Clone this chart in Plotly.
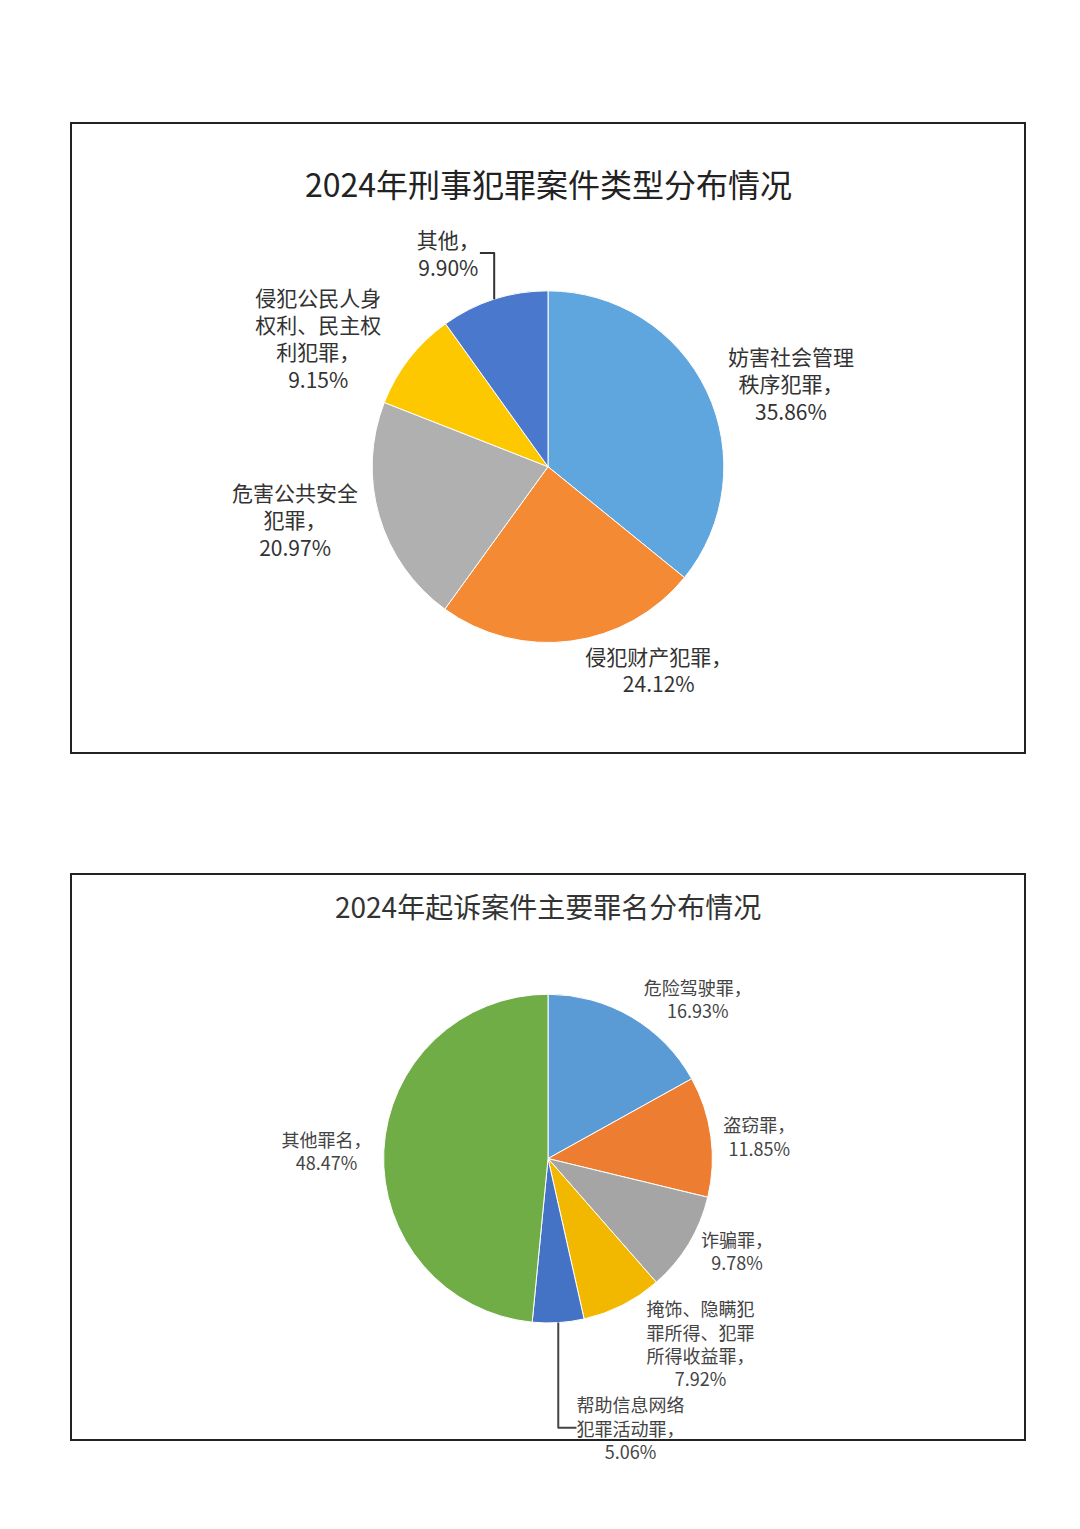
import plotly.graph_objects as go

title1 = "2024年刑事犯罪案件类型分布情况"
labels1 = ["妨害社会管理<br>秩序犯罪", "侵犯财产犯罪", "危害公共安全<br>犯罪", "侵犯公民人身<br>权利、民主权<br>利犯罪", "其他"]
values1 = [35.86, 24.12, 20.97, 9.15, 9.90]
colors1 = ["#5fa5de", "#f58a35", "#b0b0b0", "#fdc800", "#4a78cc"]

title2 = "2024年起诉案件主要罪名分布情况"
labels2 = ["危险驾驶罪", "盗窃罪", "诈骗罪", "掩饰、隐瞒犯<br>罪所得、犯罪<br>所得收益罪", "帮助信息网络<br>犯罪活动罪", "其他罪名"]
values2 = [16.93, 11.85, 9.78, 7.92, 5.06, 48.47]
colors2 = ["#5b9bd5", "#ed7d31", "#a5a5a5", "#f2b800", "#4472c4", "#70ad47"]

W, H = 1080, 1529
font = "Noto Sans CJK SC"

fig = go.Figure()
fig.add_trace(go.Pie(
    labels=labels1, values=values1, sort=False, direction="clockwise", rotation=0,
    marker=dict(colors=colors1, line=dict(color="white", width=1)),
    texttemplate="%{label}，<br>%{value:.2f}%", textposition="outside", automargin=False,
    textfont=dict(size=21, color="#333"), showlegend=False, hoverinfo="label+value",
    domain=dict(x=[0.3, 0.7], y=[0.585, 0.815])))
fig.add_trace(go.Pie(
    labels=labels2, values=values2, sort=False, direction="clockwise", rotation=0,
    marker=dict(colors=colors2, line=dict(color="white", width=1)),
    texttemplate="%{label}，<br>%{value:.2f}%", textposition="outside", automargin=False,
    textfont=dict(size=18, color="#444"), showlegend=False, hoverinfo="label+value",
    domain=dict(x=[0.3, 0.7], y=[0.14, 0.355])))

def box(top, bottom):
    fig.add_shape(type="rect", xref="paper", yref="paper",
                  x0=63 / W, x1=1017 / W, y0=1 - bottom / H, y1=1 - top / H,
                  line=dict(color="#222", width=2))

box(115, 745)
box(866, 1432)
fig.add_annotation(text=title1, x=0.5, y=1 - 150 / H, xref="paper", yref="paper",
                   showarrow=False, font=dict(size=32, color="#222"))
fig.add_annotation(text=title2, x=0.5, y=1 - 898 / H, xref="paper", yref="paper",
                   showarrow=False, font=dict(size=28, color="#333"))

fig.update_layout(width=W, height=H, margin=dict(l=0, r=0, t=0, b=0),
                  paper_bgcolor="white", plot_bgcolor="white",
                  font=dict(family=font))
fig.write_html("out.html")
